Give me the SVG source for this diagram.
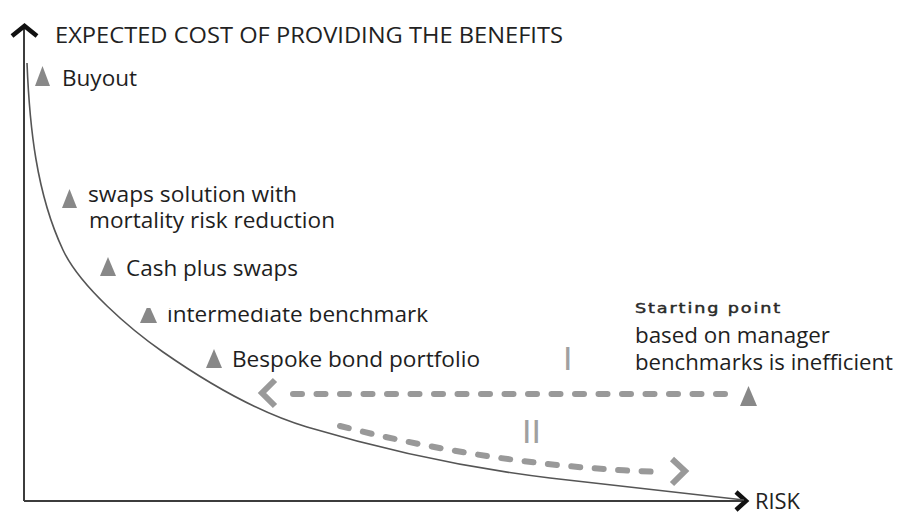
<svg xmlns="http://www.w3.org/2000/svg" width="901" height="514" viewBox="0 0 901 514">
  <style>
    .label { font-family: "Open Sans", "Liberation Sans", sans-serif; font-size: 22px; fill: #1e1e1e; }
    .axis-title { font-family: "Open Sans", "Liberation Sans", sans-serif; font-size: 21px; fill: #222; }
    .note { font-family: "DejaVu Sans", "Liberation Sans", sans-serif; font-size: 14px; letter-spacing: 1.5px; fill: #2a2a2a; stroke: #2a2a2a; stroke-width: 0.45px; }
    .numeral { font-family: "Liberation Sans", sans-serif; font-size: 34px; fill: #a0a0a0; }
    .marker { fill: #888; }
    .axis { stroke: #3c3c3c; stroke-width: 2; fill: none; }
    .axis-head { stroke: #111; stroke-width: 4.5; fill: none; stroke-linejoin: miter; }
    .frontier { stroke: #555; stroke-width: 1.6; fill: none; }
    .move { stroke: #999; stroke-width: 6; fill: none; stroke-dasharray: 9 14.5; stroke-linecap: round; }
    .move-head { stroke: #999; stroke-width: 6; fill: none; stroke-linejoin: miter; }
  </style>
  <defs>
    <clipPath id="trim">
      <rect x="0" y="308" width="901" height="40"/>
    </clipPath>
  </defs>
  <rect width="901" height="514" fill="#fff"/>

  <!-- axes -->
  <g id="axes">
    <line class="axis" x1="24" y1="29" x2="24" y2="501"/>
    <line class="axis" x1="24" y1="501" x2="744" y2="501"/>
    <polyline class="axis-head" points="12,36 24.5,26 37,36"/>
    <polyline class="axis-head" points="736,492 746,501 736,510"/>
    <text class="axis-title" x="55" y="43" textLength="508" lengthAdjust="spacingAndGlyphs">EXPECTED COST OF PROVIDING THE BENEFITS</text>
    <text class="axis-title" x="755" y="509" font-size="22" textLength="45" lengthAdjust="spacingAndGlyphs">RISK</text>
  </g>

  <!-- efficient frontier -->
  <g id="frontier">
    <path class="frontier" d="M27,63 C29.5,126 36.2,193 63,250 C80,286.2 130.2,329.1 163,352 C207.3,382.9 255.3,411.5 307,427 C386.5,450.8 467.6,468.1 550,478 L744,500"/>
  </g>

  <!-- strategies -->
  <g id="buyout">
    <polygon class="marker" points="42.5,66 35,86 50,86"/>
    <text class="label" x="62" y="86" textLength="75" lengthAdjust="spacingAndGlyphs">Buyout</text>
  </g>
  <g id="swaps-mortality">
    <polygon class="marker" points="69.5,189 62,208 77,208"/>
    <text class="label" x="88" y="202" textLength="209" lengthAdjust="spacingAndGlyphs">swaps solution with</text>
    <text class="label" x="89" y="228" textLength="246" lengthAdjust="spacingAndGlyphs">mortality risk reduction</text>
  </g>
  <g id="cash-swaps">
    <polygon class="marker" points="108,257 100,276 116,276"/>
    <text class="label" x="126" y="276" textLength="172" lengthAdjust="spacingAndGlyphs">Cash plus swaps</text>
  </g>
  <g id="intermediate" clip-path="url(#trim)">
    <polygon class="marker" points="148.5,304 140,323 157,323"/>
    <text class="label" x="167" y="322" textLength="261" lengthAdjust="spacingAndGlyphs">intermediate benchmark</text>
  </g>
  <g id="bespoke">
    <polygon class="marker" points="214,349 206,368 222,368"/>
    <text class="label" x="232" y="367" textLength="248" lengthAdjust="spacingAndGlyphs">Bespoke bond portfolio</text>
  </g>
  <g id="starting-point">
    <polygon class="marker" points="748.5,386 740,406 757,406"/>
    <text class="note" x="635" y="313" textLength="147" lengthAdjust="spacingAndGlyphs">Starting point</text>
    <text class="label" x="635" y="343" textLength="195" lengthAdjust="spacingAndGlyphs">based on manager</text>
    <text class="label" x="635" y="370" textLength="258" lengthAdjust="spacingAndGlyphs">benchmarks is inefficient</text>
  </g>

  <!-- moves from the starting point -->
  <g id="connectors">
    <path class="move" d="M725,394 L280,394"/>
    <polyline class="move-head" points="275,380 262,393 275,406"/>
    <text class="numeral" x="563" y="370">I</text>
    <path class="move" d="M340,426 Q500,467 662,472"/>
    <polyline class="move-head" points="672,459 685,471 672,484"/>
    <text class="numeral" x="522" y="443">II</text>
  </g>
</svg>
